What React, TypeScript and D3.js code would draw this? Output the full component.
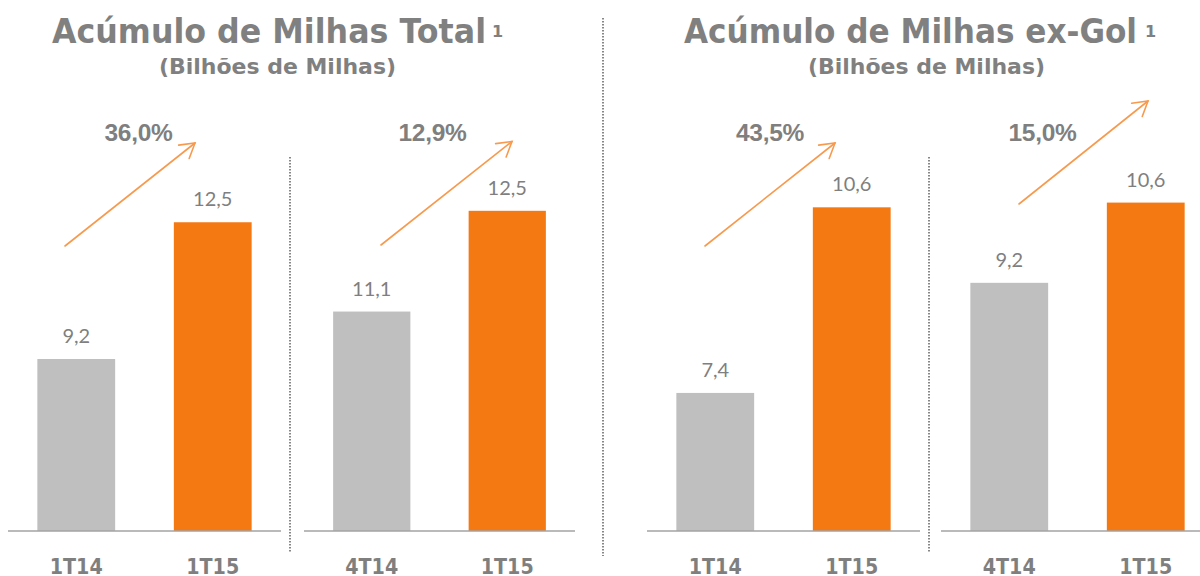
import React from "react";
import * as d3 from "d3";

// ---- data ----
const panelTitles = ["Acúmulo de Milhas Total", "Acúmulo de Milhas ex-Gol"];
const panelSubtitle = "(Bilhões de Milhas)";
const categoriesYoY = ["1T14", "1T15"];
const categoriesQoQ = ["4T14", "1T15"];
const totalYoY = [9.2, 12.5];
const totalQoQ = [11.1, 12.5];
const exGolYoY = [7.4, 10.6];
const exGolQoQ = [9.2, 10.6];
const growthLabels = ["36,0%", "12,9%", "43,5%", "15,0%"];
// per-panel value axis (value at baseline, value at top of plot area)
const yDomainMin = [5.05, 8.05, 5.02, 4.87];
const yDomainMax = [15.45, 14.04, 12.45, 12.39];

// ---- layout ----
const W = 1200;
const H = 576;
const BASE = 531;
const TOP = 100;
const panelX: [number, number][] = [
  [8, 281],
  [304, 575],
  [647, 920],
  [941, 1214],
];
const arrowLayout = [
  { sx: 57, sy: 246, ex: 187, ey: 143, tx: 130.5 },
  { sx: 77, sy: 245, ex: 208, ey: 141.5, tx: 128.5 },
  { sx: 58, sy: 246, ex: 188, ey: 143, tx: 123 },
  { sx: 78, sy: 204, ex: 207, ey: 101, tx: 101.5 },
];

const GRAY = "#bfbfbf";
const ORANGE = "#f47913";
const ARROW = "#f79a4e";
const TEXT = "#7f7f7f";

const fmt = d3
  .formatLocale({ decimal: ",", thousands: ".", grouping: [3], currency: ["", ""] })
  .format(".1f");

const panels = [
  { cats: categoriesYoY, vals: totalYoY },
  { cats: categoriesQoQ, vals: totalQoQ },
  { cats: categoriesYoY, vals: exGolYoY },
  { cats: categoriesQoQ, vals: exGolQoQ },
];

function Arrow({ x1, y1, x2, y2 }: { x1: number; y1: number; x2: number; y2: number }) {
  const ang = Math.atan2(y1 - y2, x1 - x2);
  const len = 16.5;
  const a = (31 * Math.PI) / 180;
  const p1: [number, number] = [x2 + len * Math.cos(ang + a), y2 + len * Math.sin(ang + a)];
  const p2: [number, number] = [x2 + len * Math.cos(ang - a), y2 + len * Math.sin(ang - a)];
  const line = d3.line();
  return (
    <g fill="none" stroke={ARROW} strokeWidth={1.6} strokeLinecap="round">
      <path d={line([[x1, y1], [x2, y2]]) || ""} />
      <path d={line([p1, [x2, y2], p2]) || ""} strokeLinejoin="miter" />
    </g>
  );
}

function Panel({ i }: { i: number }) {
  const [x0, x1] = panelX[i];
  const { cats, vals } = panels[i];
  const x = d3.scaleBand<string>().domain(cats).range([x0, x1]).paddingInner(0.43).paddingOuter(0.215);
  const y = d3.scaleLinear().domain([yDomainMin[i], yDomainMax[i]]).range([BASE, TOP]);
  const al = arrowLayout[i];
  return (
    <g>
      {cats.map((c, j) => (
        <rect
          key={c}
          x={x(c)}
          y={y(vals[j])}
          width={x.bandwidth()}
          height={BASE - y(vals[j])}
          fill={j === 0 ? GRAY : ORANGE}
        />
      ))}
      <line x1={x0} x2={x1} y1={BASE} y2={BASE} stroke="#a3a3a3" strokeWidth={1.6} />
      {cats.map((c, j) => (
        <text
          key={"v" + c}
          x={(x(c) || 0) + x.bandwidth() / 2}
          y={y(vals[j]) - 16}
          textAnchor="middle"
          fontFamily="Lato, 'Open Sans', sans-serif"
          fontSize={20}
          fill={TEXT}
        >
          {fmt(vals[j])}
        </text>
      ))}
      {cats.map((c) => (
        <text
          key={"c" + c}
          x={(x(c) || 0) + x.bandwidth() / 2 - 26.5}
          y={574}
          textLength={53}
          lengthAdjust="spacingAndGlyphs"
          fontFamily="'DejaVu Sans', sans-serif"
          fontWeight="bold"
          fontSize={21.5}
          fill={TEXT}
        >
          {c}
        </text>
      ))}
      <Arrow x1={x0 + al.sx} y1={al.sy} x2={x0 + al.ex} y2={al.ey} />
      <text
        x={x0 + al.tx}
        y={141}
        textAnchor="middle"
        fontFamily="'Liberation Sans', Arial, sans-serif"
        fontWeight="bold"
        fontSize={24.5}
        fill={TEXT}
        letterSpacing={-0.3}
      >
        {growthLabels[i]}
      </text>
    </g>
  );
}

const titleLayout = [
  { x: 52, len: 434, sup: 492, subX: 159, subLen: 237 },
  { x: 684, len: 453, sup: 1145, subX: 808, subLen: 237 },
];

export default function App() {
  return (
    <svg
      width={W}
      height={H}
      style={{ position: "absolute", left: 0, top: 0, background: "#fff" }}
    >
      {panelTitles.map((t, k) => {
        const tl = titleLayout[k];
        return (
          <g key={t} fill="#808080" fontFamily="'DejaVu Sans', sans-serif" fontWeight="bold">
            <text x={tl.x} y={43} fontSize={34} textLength={tl.len} lengthAdjust="spacingAndGlyphs">
              {t}
            </text>
            <text x={tl.sup} y={37} fontSize={16}>
              1
            </text>
            <text x={tl.subX} y={74} fontSize={21} textLength={tl.subLen} lengthAdjust="spacingAndGlyphs">
              {panelSubtitle}
            </text>
          </g>
        );
      })}
      <g stroke="#555" strokeWidth={1.4} strokeDasharray="1.4 1.6">
        <line x1={603} x2={603} y1={18} y2={556} />
        <line x1={290} x2={290} y1={157} y2={552} />
        <line x1={929} x2={929} y1={157} y2={552} />
      </g>
      {panels.map((_, i) => (
        <Panel key={i} i={i} />
      ))}
    </svg>
  );
}
